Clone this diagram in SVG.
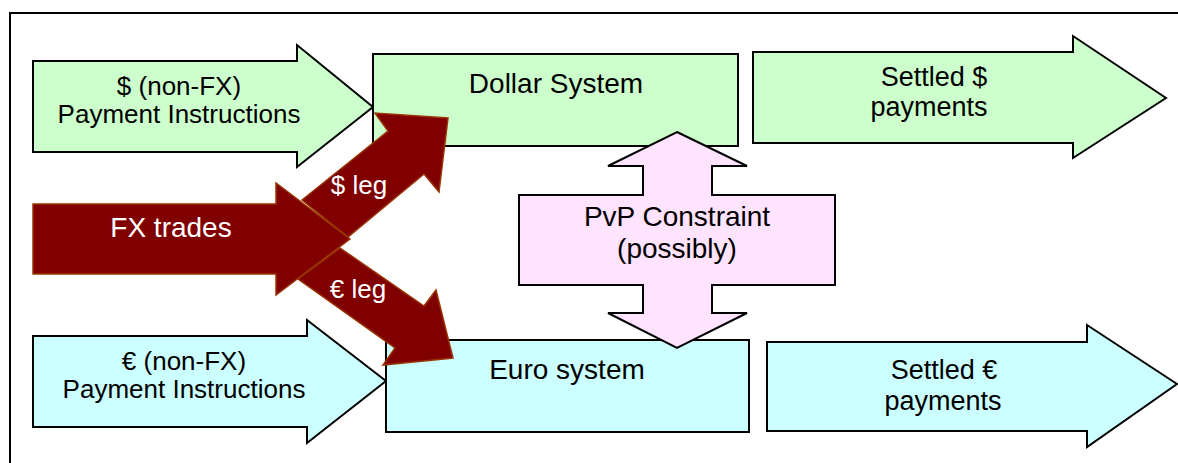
<svg xmlns="http://www.w3.org/2000/svg" width="1178" height="463" viewBox="0 0 1178 463">
<style>
text{font-family:"Liberation Sans",Arial,sans-serif;text-anchor:middle;fill:#000}
.lbl{font-size:28px}
.st{font-size:27px}
.sm{font-size:26px}
.wt{fill:#ffffff}
.green{fill:#ccffcc;stroke:#000;stroke-width:2}
.cyan{fill:#ccffff;stroke:#000;stroke-width:2}
.pink{fill:#ffe3ff;stroke:#000;stroke-width:2}
.fx{fill:#800000;stroke:#993300;stroke-width:1.5;stroke-linejoin:miter}
</style>
<rect x="0" y="0" width="1178" height="463" fill="#ffffff"/>
<rect id="frame" x="10" y="13" width="1200" height="500" fill="none" stroke="#000" stroke-width="2"/>

<g id="usd-instructions">
<polygon class="green" points="33,61 297,61 297,45 373,107 297,167 297,152 33,152"/>
<text class="sm" x="179" y="95">$ (non-FX)</text>
<text class="sm" x="179" y="123">Payment Instructions</text>
</g>

<g id="dollar-system">
<rect class="green" x="373" y="54" width="365" height="92"/>
<text class="lbl" x="556" y="93">Dollar System</text>
</g>

<g id="settled-usd">
<polygon class="green" points="753,52 1073,52 1073,36 1166,98 1073,158 1073,143 753,143"/>
<text class="st" x="934" y="86">Settled $</text>
<text class="st" x="929" y="116">payments</text>
</g>

<g id="eur-instructions">
<polygon class="cyan" points="33,336 307,336 307,320 386,381 307,443 307,427 33,427"/>
<text class="sm" x="184" y="370">€ (non-FX)</text>
<text class="sm" x="184" y="398">Payment Instructions</text>
</g>

<g id="euro-system">
<rect class="cyan" x="386" y="340" width="363" height="92"/>
<text class="lbl" x="567" y="379">Euro system</text>
</g>

<g id="settled-eur">
<polygon class="cyan" points="767,342 1087,342 1087,325 1177,384 1087,447 1087,431 767,431"/>
<text class="st" x="944" y="379">Settled €</text>
<text class="st" x="943" y="410">payments</text>
</g>

<g id="pvp-constraint">
<polygon class="pink" points="677,132 747,166 712,166 712,195 835,195 835,285 712,285 712,313 747,313 677,348 608,313 643,313 643,285 519,285 519,195 643,195 643,166 608,166"/>
<text class="lbl" x="677" y="226">PvP Constraint</text>
<text class="lbl" x="677" y="258">(possibly)</text>
</g>

<g id="connectors">
<g id="usd-leg">
<polygon class="fx" points="302,200 388,131 375,113 448,118 439,192 424,174 348,237"/>
<text class="sm wt" x="359" y="194">$ leg</text>
</g>
<g id="eur-leg">
<polygon class="fx" points="340,248 424,306 436,290 453,358 383,365 395,348 298,279"/>
<text class="sm wt" x="358" y="298">€ leg</text>
</g>
</g>

<g id="fx-trades">
<polygon class="fx" points="33,204 276,204 276,183 350,239 276,295 276,274 33,274"/>
<text class="lbl wt" x="171" y="237">FX trades</text>
</g>
</svg>
